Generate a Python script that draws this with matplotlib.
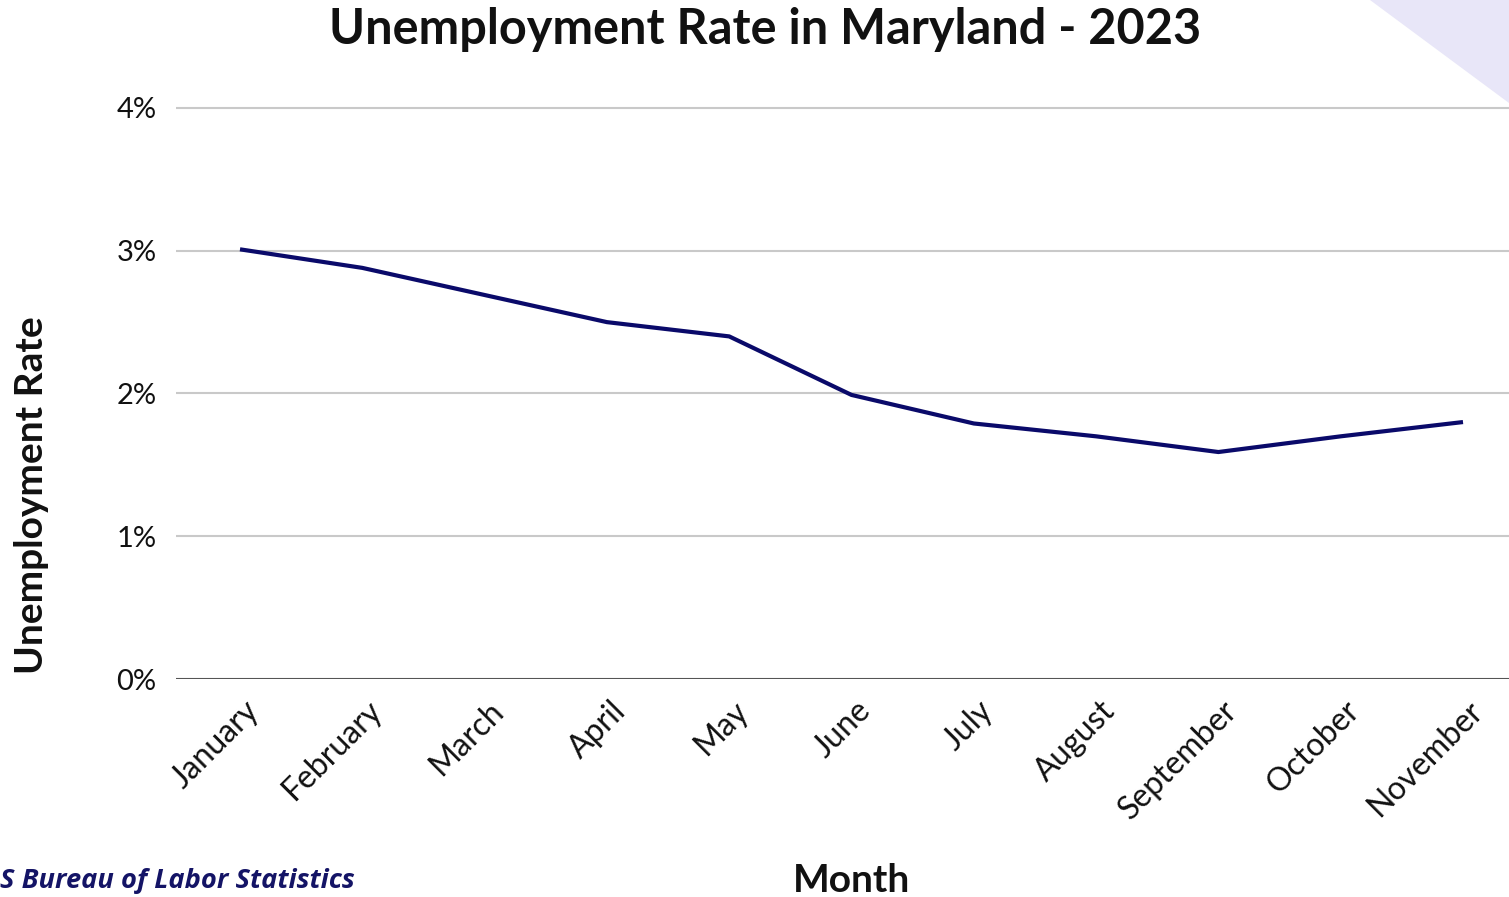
import matplotlib
matplotlib.use("Agg")
import matplotlib.pyplot as plt
from matplotlib.patches import Polygon
from matplotlib.transforms import ScaledTranslation

months = ["January", "February", "March", "April", "May", "June", "July",
          "August", "September", "October", "November"]
rates = [3.01, 2.88, 2.69, 2.50, 2.40, 1.99, 1.79, 1.70, 1.59, 1.70, 1.80]
y_ticks = [0, 1, 2, 3, 4]
y_tick_labels = ["0%", "1%", "2%", "3%", "4%"]

plt.rcParams['font.family'] = ['Lato', 'DejaVu Sans']

W, H = 1509, 897
fig = plt.figure(figsize=(W / 100, H / 100), dpi=100)

# decorative triangle top-right
tri = Polygon([(1370 / W, 1.0), (1.0, 1.0), (1.0, 1 - 103 / H)], closed=True,
              transform=fig.transFigure, facecolor="#e8e6f8", edgecolor="none", zorder=0)
fig.patches.append(tri)

left = 176 / W
bottom = 1 - 679 / H
ymax = 4.2
top_px = 679 - ymax * 142.75
ax = fig.add_axes([left, bottom, 1.0 - left, (679 - top_px) / H])
ax.set_facecolor("none")

x = list(range(len(months)))
ax.plot(x, rates, color="#0a0a6a", lw=3.0, solid_capstyle="butt", zorder=3)

ax.set_ylim(0, ymax)
ax.set_xlim(-64 / 122.3, (W - 240) / 122.3)
ax.set_yticks(y_ticks)
ax.set_yticklabels(y_tick_labels)
ax.set_xticks(x)
ax.set_xticklabels(months, rotation=45, ha="right", rotation_mode="anchor")

for v in y_ticks[1:]:
    ax.axhline(v, color="#c9c9c9", lw=1.5, zorder=1)
ax.axhline(0, color="#555555", lw=1.5, zorder=2)

for s in ax.spines.values():
    s.set_visible(False)
ax.tick_params(axis="both", length=0, colors="#111111")
ax.tick_params(axis="y", pad=14, labelsize=21)
ax.tick_params(axis="x", pad=12, labelsize=23)
offset = ScaledTranslation(4 / 100, 0, fig.dpi_scale_trans)
for lab in ax.get_xticklabels():
    lab.set_transform(lab.get_transform() + offset)

fig.text(765 / W, 1 - 30 / H, "Unemployment Rate in Maryland - 2023", ha="center",
         va="center", fontsize=35, fontweight="bold", color="#111111")
fig.text(32 / W, 1 - 495 / H, "Unemployment Rate", ha="center", va="center",
         rotation=90, fontsize=28, fontweight="bold", color="#111111")
fig.text(852 / W, 1 - 880 / H, "Month", ha="center", va="center",
         fontsize=28, fontweight="bold", color="#111111")
fig.text(0.0, 1 - 881 / H, "S Bureau of Labor Statistics", ha="left", va="center",
         fontsize=19.6, fontweight="bold", fontstyle="italic", color="#141466",
         family=["Open Sans", "DejaVu Sans"])

fig.savefig("out.png", dpi=100)
